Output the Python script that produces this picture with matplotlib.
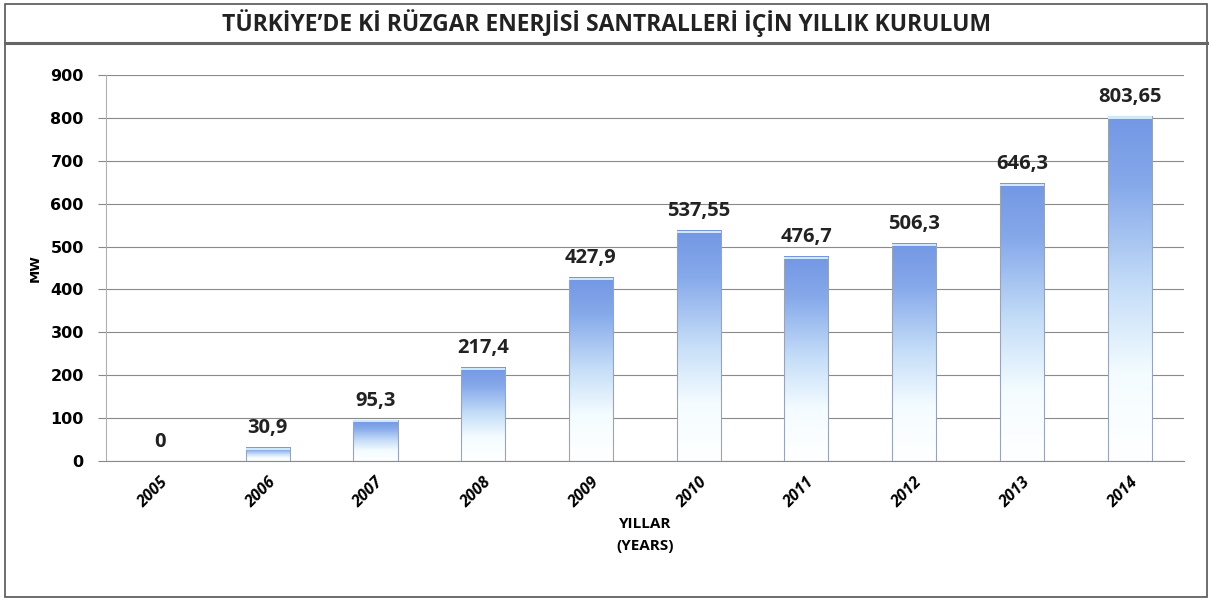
import numpy as np
import matplotlib
matplotlib.use('Agg')
import matplotlib.pyplot as plt
from matplotlib.colors import LinearSegmentedColormap
from matplotlib.lines import Line2D
from matplotlib.patches import Rectangle

# data
years = ['2005', '2006', '2007', '2008', '2009', '2010', '2011', '2012', '2013', '2014']
installed_mw = [0, 30.9, 95.3, 217.4, 427.9, 537.55, 476.7, 506.3, 646.3, 803.65]
value_labels = ['0', '30,9', '95,3', '217,4', '427,9', '537,55', '476,7', '506,3', '646,3', '803,65']

TITLE = 'TÜRKİYE\u2019DE Kİ RÜZGAR ENERJİSİ SANTRALLERİ İÇİN YILLIK KURULUM'
NARROW = ['Open Sans', 'DejaVu Sans']

fig = plt.figure(figsize=(12.12, 6.01), dpi=100)
ax = fig.add_axes([0.0875, 0.233, 0.889, 0.642])

# gradient for the bars: white at bottom, blue at top
cmap = LinearSegmentedColormap.from_list(
    'bar', [(0.0, '#ffffff'), (0.25, '#f4fcff'), (0.5, '#c6def8'), (0.8, '#86a9ea'), (1.0, '#7397e4')])
grad = np.linspace(0, 1, 256).reshape(-1, 1)

width = 0.41
x = np.arange(len(years))
for xi, h in zip(x, installed_mw):
    if h <= 0:
        continue
    ax.imshow(grad, cmap=cmap, origin='lower', aspect='auto',
              extent=(xi - width / 2, xi + width / 2, 0, h), zorder=2)
    ax.add_patch(Rectangle((xi - width / 2, 0), width, h, fill=False,
                           edgecolor='#9aa4b8', linewidth=0.8, zorder=3))
    # light cap on top of the bar
    ax.add_patch(Rectangle((xi - width / 2, h - 5), width, 5, facecolor='#cfe9fb',
                           edgecolor='none', zorder=3))

for xi, h, lab in zip(x, installed_mw, value_labels):
    ax.text(xi, h + 22, lab, ha='center', va='bottom', fontsize=14.5,
            fontweight='bold', family=NARROW, color='#222222')

ax.set_xlim(-0.5, len(years) - 0.5)
ax.set_ylim(0, 900)
ax.set_yticks(range(0, 901, 100))
ax.set_xticks(x)
ax.set_xticklabels(years, rotation=45, ha='right', rotation_mode='anchor',
                   fontsize=11.5, fontweight='bold', fontstyle='italic', family=NARROW)
for lab in ax.get_yticklabels():
    lab.set_fontweight('bold')
    lab.set_fontsize(11.5)
ax.tick_params(axis='y', length=6, color='#888888', pad=10)
ax.tick_params(axis='x', length=0, pad=10)
ax.grid(axis='y', color='#8a8a8a', linewidth=0.8, zorder=1)
ax.set_axisbelow(True)
for side in ['top', 'right']:
    ax.spines[side].set_visible(False)
ax.spines['left'].set_color('#b0b0b0')
ax.spines['bottom'].set_color('#8a8a8a')

ax.set_ylabel('MW', fontsize=9.5, fontweight='bold', labelpad=6)
ax.set_xlabel('YILLAR\n(YEARS)', fontsize=11, fontweight='bold', family=NARROW,
              linespacing=1.7, labelpad=4)

# title and frame
fig.text(0.5, 0.962, TITLE, ha='center', va='center', fontsize=16.5,
         fontweight='bold', family=NARROW, color='#222222')
fig.add_artist(Rectangle((0.004, 0.006), 0.992, 0.988, transform=fig.transFigure,
                         fill=False, edgecolor='#555555', linewidth=1.2))
fig.add_artist(Line2D([0.004, 0.996], [0.929, 0.929], transform=fig.transFigure,
                      color='#666666', linewidth=2.2))

fig.savefig('out.png', dpi=100)
